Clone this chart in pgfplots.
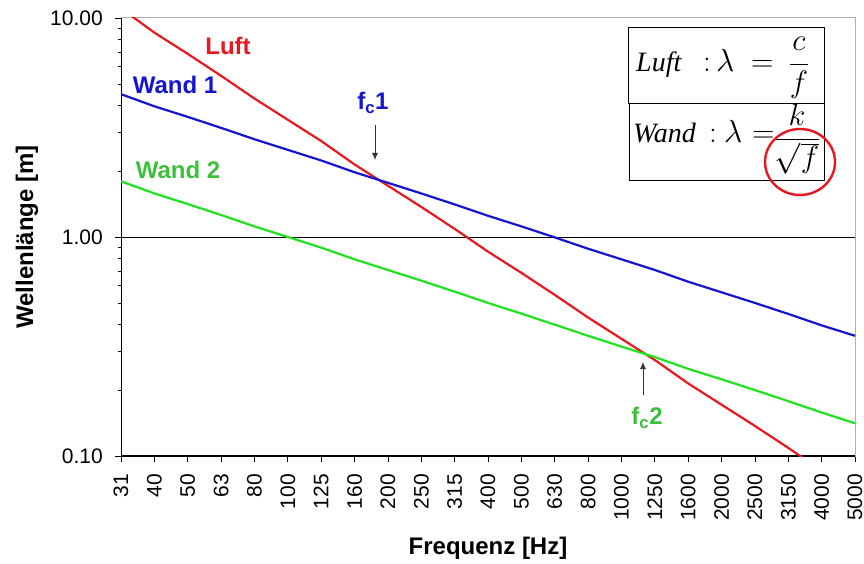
\RequirePackage{fix-cm}
\documentclass[border=0pt]{standalone}
\usepackage{fontspec}
\setmainfont{Liberation Sans}
\newfontfamily\tnr{Liberation Serif}
\usepackage{pgfplots}
\pgfplotsset{compat=1.18}
\usetikzlibrary{arrows.meta}
\definecolor{luftred}{RGB}{232,24,30}
\definecolor{wandblue}{RGB}{20,20,210}
\definecolor{wandgreen}{RGB}{30,228,30}
\definecolor{txtgreen}{RGB}{60,192,60}
\definecolor{framegray}{RGB}{175,175,175}
\newcommand{\tl}[1]{\hbox{\fontsize{21}{21}\selectfont #1}}
\begin{document}
\begin{tikzpicture}[x=1pt,y=1pt]
\begin{axis}[
  at={(121pt,107pt)}, anchor=south west,
  scale only axis, width=734pt, height=438pt,
  xmin=0, xmax=22, ymode=log, ymin=0.1, ymax=10,
  xtick={0,...,22},
  xticklabels={\tl{31},\tl{40},\tl{50},\tl{63},\tl{80},\tl{100},\tl{125},\tl{160},\tl{200},\tl{250},\tl{315},\tl{400},\tl{500},\tl{630},\tl{800},\tl{1000},\tl{1250},\tl{1600},\tl{2000},\tl{2500},\tl{3150},\tl{4000},\tl{5000}},
  ytick={0.1,1,10}, yticklabels={\tl{0.10},\tl{1.00},\tl{10.00}},
  minor ytick={}, 
  tick pos=left, tick align=outside,
  major tick length=6pt,
  tick style={black, line width=0.8pt},
  axis line style={framegray, line width=1pt},
  xticklabel style={yshift=-12pt, rotate=90, anchor=east, inner sep=0pt},
  yticklabel style={xshift=-12pt, anchor=east, inner sep=0pt},
  clip=true,
]
\draw[black, line width=0.8pt] (rel axis cs:0,0.5) -- (rel axis cs:1,0.5);
\draw[black, line width=1.2pt] (rel axis cs:0,1) -- (rel axis cs:0,0) -- (rel axis cs:1,0);
\addplot[luftred, line width=2.2pt] coordinates {
(0,11.065) (1,8.575) (2,6.86) (3,5.444) (4,4.2875) (5,3.43) (6,2.744) (7,2.144)
(8,1.715) (9,1.372) (10,1.089) (11,0.8575) (12,0.686) (13,0.5444) (14,0.4288)
(15,0.343) (16,0.2744) (17,0.2144) (18,0.1715) (19,0.1372) (20,0.1089) (21,0.0858) (22,0.0686)};
\addplot[wandblue, line width=2.2pt] coordinates {
(0,4.49) (1,3.953) (2,3.536) (3,3.150) (4,2.795) (5,2.5) (6,2.236) (7,1.976)
(8,1.768) (9,1.581) (10,1.409) (11,1.25) (12,1.118) (13,0.996) (14,0.884)
(15,0.791) (16,0.707) (17,0.625) (18,0.559) (19,0.5) (20,0.4455) (21,0.395) (22,0.354)};
\addplot[wandgreen, line width=2.2pt] coordinates {
(0,1.796) (1,1.581) (2,1.414) (3,1.260) (4,1.118) (5,1.0) (6,0.894) (7,0.791)
(8,0.707) (9,0.632) (10,0.563) (11,0.5) (12,0.447) (13,0.398) (14,0.354)
(15,0.316) (16,0.283) (17,0.25) (18,0.224) (19,0.2) (20,0.178) (21,0.158) (22,0.141)};
\end{axis}
% axis titles
\node[font=\bfseries\fontsize{24}{24}\selectfont] at (488,15) {Frequenz [Hz]};
\node[font=\bfseries\fontsize{24}{24}\selectfont, rotate=90] at (27,326) {Wellenlänge [m]};
% series labels
\node[font=\bfseries\fontsize{24}{24}\selectfont, text=luftred] at (228,517) {Luft};
\node[font=\bfseries\fontsize{24}{24}\selectfont, text=wandblue] at (175,478) {Wand 1};
\node[font=\bfseries\fontsize{24}{24}\selectfont, text=txtgreen] at (178,393) {Wand 2};
\node[font=\bfseries\fontsize{24}{24}\selectfont, text=wandblue] at (373,460) {f\textsubscript{c}1};
\node[font=\bfseries\fontsize{24}{24}\selectfont, text=txtgreen] at (647,145) {f\textsubscript{c}2};
\draw[-{Latex[length=7pt,width=6pt]}, line width=0.8pt, black!80] (375,438) -- (375,403);
\draw[-{Latex[length=7pt,width=6pt]}, line width=0.8pt, black!80] (643,168) -- (643,201);
% formula boxes
\draw[fill=white, line width=0.8pt] (628,460) rectangle (824,536);
\draw[fill=white, line width=0.8pt] (629,383) rectangle (824,460);
\begin{scope}[every node/.style={inner sep=0pt, font=\fontsize{28}{28}\selectfont}]
\node[anchor=base west] at (636,491) {\tnr\itshape Luft};
\node[anchor=base west, font=\fontsize{31}{31}\selectfont] at (703,491) {$:$};
\node[anchor=base west, font=\fontsize{32}{32}\selectfont] at (716,491) {$\lambda$};
\node[anchor=base west, font=\fontsize{31}{31}\selectfont] at (751,491) {$=$};
\node[anchor=base, font=\fontsize{31}{31}\selectfont] at (799,491.5) {$\displaystyle\frac{c}{f}$};
\node[anchor=base west] at (633,420) {\tnr\itshape Wand};
\node[anchor=base west, font=\fontsize{31}{31}\selectfont] at (709,420) {$:$};
\node[anchor=base west, font=\fontsize{32}{32}\selectfont] at (724,420) {$\lambda$};
\node[anchor=base west, font=\fontsize{31}{31}\selectfont] at (752,420) {$=$};
\node[anchor=base, font=\fontsize{31}{31}\selectfont] at (797,416.5) {$\displaystyle\frac{k}{\sqrt{f}}$};
\end{scope}
\draw[luftred, line width=2.4pt] (800,401) ellipse (35 and 33);
\pgfresetboundingbox
\path[use as bounding box] (0,0) rectangle (864,563);
\end{tikzpicture}
\end{document}
